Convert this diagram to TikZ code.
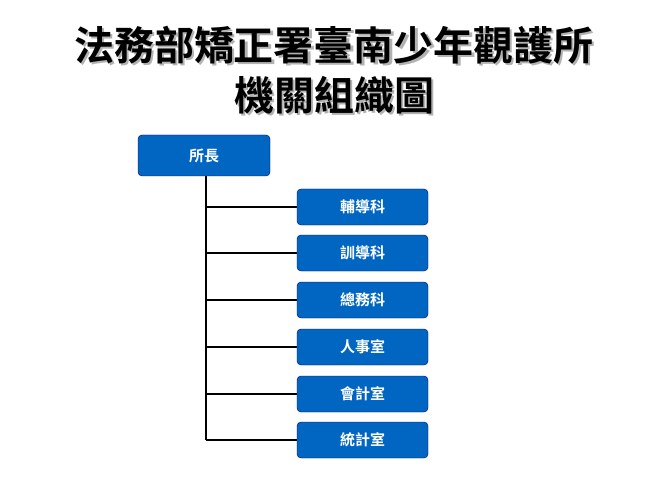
\documentclass[tikz,border=0pt]{standalone}
\usepackage{fontspec}
\newfontfamily\cjk{Noto Sans CJK TC}[BoldFont={* Bold}]
\usetikzlibrary{positioning,shadows}

\tikzset{
    unit/.style={draw=blue!40!black, fill={rgb,255:red,0;green,102;blue,194}, rounded corners=4pt,
        text=white, font=\cjk\bfseries\fontsize{15}{17}\selectfont, minimum width=131pt, minimum height=36pt},
    link/.style={line width=1.6pt},
    heading/.style={font=\cjk\bfseries\fontsize{40}{42}\selectfont}
}

\begin{document}
\begin{tikzpicture}[x=1pt,y=-1pt]
    \useasboundingbox (0,0) rectangle (667,500);

    \node[heading, text=gray!60] at (336,47) {法務部矯正署臺南少年觀護所};
    \node[heading] (t1) at (334,45) {法務部矯正署臺南少年觀護所};
    \node[heading, text=gray!60] at (336,97) {機關組織圖};
    \node[heading] (t2) at (334,95) {機關組織圖};

    \node[unit, minimum width=132pt, minimum height=41pt] (head) at (204,155.5) {所長};
    \coordinate (trunk) at (206,176);

    \node[unit] (c1) at (362.5,207) {輔導科};
    \node[unit] (c2) at (362.5,253) {訓導科};
    \node[unit] (c3) at (362.5,300) {總務科};
    \node[unit] (c4) at (362.5,347) {人事室};
    \node[unit] (c5) at (362.5,394) {會計室};
    \node[unit] (c6) at (362.5,440) {統計室};

    % trunk and branches
    \draw[link] (trunk) -- (trunk |- c6.west);
    \foreach \c in {1,...,6} {
        \draw[link] (trunk |- c\c.west) -- (c\c.west);
    }
\end{tikzpicture}
\end{document}
